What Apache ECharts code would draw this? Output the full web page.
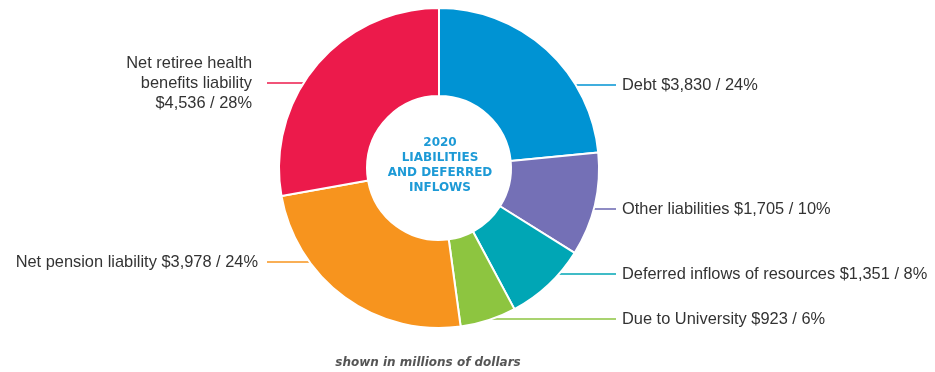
<!DOCTYPE html>
<html>
<head>
<meta charset="utf-8">
<script src="https://cdn.jsdelivr.net/npm/echarts@6/dist/echarts.min.js"></script>
<style>
  html, body { margin: 0; padding: 0; background: #ffffff; }
  #chart { width: 935px; height: 372px; }
</style>
</head>
<body>
<div id="chart"></div>
<script>
// ---- data ----
const categories = [
  'Debt',
  'Other liabilities',
  'Deferred inflows of resources',
  'Due to University',
  'Net pension liability',
  'Net retiree health\nbenefits liability'
];
const values = [3830, 1705, 1351, 923, 3978, 4536];
const percentLabels = ['24%', '10%', '8%', '6%', '24%', '28%'];
const centerTitle = '2020\nLIABILITIES\nAND DEFERRED\nINFLOWS';
const footnote = 'shown in millions of dollars';

// ---- styling / layout ----
const colors = ['#0093d3', '#7470b6', '#00a6b5', '#8dc540', '#f7941e', '#ec1a4b'];
const CX = 439, CY = 168, R_IN = 72, R_OUT = 160;
// label rows (vertical position of each horizontal leader line) and side
const labelRowY = [85, 209, 274, 319, 262, 83];
const labelSide = ['right', 'right', 'right', 'right', 'left', 'left'];
const RIGHT_LINE_END = 616, LEFT_LINE_END = 267;

const chart = echarts.init(document.getElementById('chart'), null, { renderer: 'canvas' });

const fmt = v => '$' + v.toLocaleString('en-US');

chart.setOption({
  animation: false,
  backgroundColor: '#ffffff',
  series: [{
    type: 'pie',
    center: [CX, CY],
    radius: [R_IN, R_OUT],
    startAngle: 90,
    clockwise: true,
    avoidLabelOverlap: false,
    itemStyle: { borderColor: '#ffffff', borderWidth: 2 },
    label: {
      show: true,
      position: 'outside',
      fontFamily: 'Liberation Sans',
      fontSize: 16.4,
      lineHeight: 20,
      color: '#333333',
      formatter: p => {
        const tail = fmt(values[p.dataIndex]) + ' / ' + percentLabels[p.dataIndex];
        return p.name.indexOf('\n') >= 0 ? p.name + '\n' + tail : p.name + ' ' + tail;
      }
    },
    labelLine: { show: true, length: 10, length2: 10, smooth: false, lineStyle: { width: 1.6 } },
    labelLayout: function (params) {
      const i = params.dataIndex;
      const y = labelRowY[i];
      const dy = y - CY;
      const dx = Math.sqrt(Math.max(R_OUT * R_OUT - dy * dy, 0));
      const right = labelSide[i] === 'right';
      const edgeX = right ? CX + dx - 1 : CX - dx + 1;
      const endX = right ? RIGHT_LINE_END : LEFT_LINE_END;
      return {
        x: right ? endX + 6 : endX - 9 - (i === 5 ? 6 : 0),
        y: y,
        align: right ? 'left' : 'right',
        verticalAlign: 'middle',
        labelLinePoints: [[edgeX, y], [(edgeX + endX) / 2, y], [endX, y]]
      };
    },
    data: categories.map((c, i) => ({
      name: c,
      value: values[i],
      itemStyle: { color: colors[i] },
      labelLine: { lineStyle: { color: colors[i] } }
    }))
  }],
  graphic: [
    {
      type: 'text',
      x: CX + 1,
      y: CY - 3,
      style: {
        text: centerTitle,
        textAlign: 'center',
        textVerticalAlign: 'middle',
        fontFamily: 'DejaVu Sans',
        fontWeight: 'bold',
        fontSize: 12,
        lineHeight: 15,
        fill: '#1d9ad6'
      }
    },
    {
      type: 'text',
      x: 428,
      y: 363,
      style: {
        text: footnote,
        textAlign: 'center',
        textVerticalAlign: 'middle',
        fontFamily: 'DejaVu Sans',
        fontStyle: 'italic',
        fontWeight: 'bold',
        fontSize: 12,
        fill: '#555555'
      }
    }
  ]
});
</script>
</body>
</html>
